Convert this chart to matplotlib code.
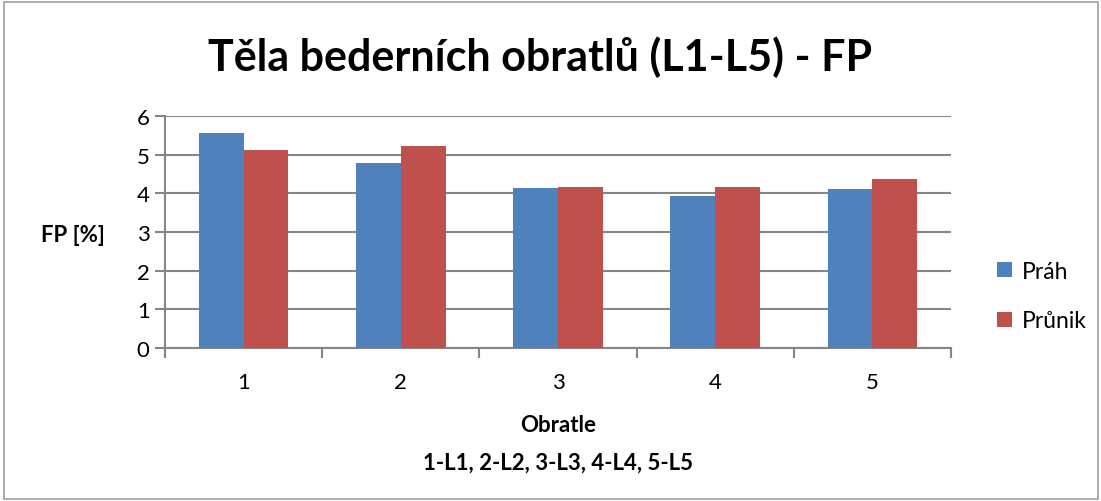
import matplotlib
matplotlib.use("Agg")
import matplotlib.pyplot as plt
import numpy as np
from matplotlib.patches import Rectangle

# Data
categories = ["1", "2", "3", "4", "5"]
prah = [5.56, 4.78, 4.14, 3.92, 4.11]
prunik = [5.13, 5.23, 4.16, 4.17, 4.37]
series_names = ["Práh", "Průnik"]
y_ticks = [0, 1, 2, 3, 4, 5, 6]

plt.rcParams['font.family'] = ['Lato', 'DejaVu Sans']

fig = plt.figure(figsize=(11.01, 5.02), dpi=100)
ax = fig.add_axes([165 / 1101, 153 / 502, 786 / 1101, 232 / 502])

x = np.arange(len(categories))
w = 0.2855
ax.bar(x - w / 2, prah, w, color="#4F81BD", label=series_names[0], zorder=3)
ax.bar(x + w / 2, prunik, w, color="#C0504D", label=series_names[1], zorder=3)

ax.set_xlim(-0.5, len(categories) - 0.5)
ax.set_ylim(0, 6)
ax.set_yticks(y_ticks)
ax.set_yticklabels([str(t) for t in y_ticks], fontsize=16)
ax.yaxis.grid(True, color="#868686", linewidth=1.5, zorder=0)

# category labels centred, tick marks at the boundaries
ax.set_xticks(x)
ax.set_xticklabels(categories, fontsize=16)
ax.tick_params(axis="x", length=0, pad=17)
ax.set_xticks(np.arange(len(categories) + 1) - 0.5, minor=True)
ax.tick_params(axis="x", which="minor", length=7, width=1.5, color="#868686")
ax.tick_params(axis="y", length=7, width=1.5, color="#868686", pad=4)

for side in ["top", "right"]:
    ax.spines[side].set_visible(False)
for side in ["left", "bottom"]:
    ax.spines[side].set_color("#868686")
    ax.spines[side].set_linewidth(1.5)

fig.text(540 / 1101, 1 - 57 / 502, "Těla bederních obratlů (L1-L5) - FP",
         ha="center", va="center", fontsize=31, fontweight="bold")
fig.text(73 / 1101, 1 - 236 / 502, "FP [%]", ha="center", va="center",
         fontsize=16, fontweight="bold")
fig.text(558 / 1101, 1 - 425 / 502, "Obratle", ha="center", va="center",
         fontsize=16, fontweight="bold")
fig.text(558 / 1101, 1 - 463 / 502, "1-L1, 2-L2, 3-L3, 4-L4, 5-L5", ha="center",
         va="center", fontsize=16, fontweight="bold")

fig.legend(loc="center left", bbox_to_anchor=(976 / 1101, 1 - 297 / 502),
           frameon=False, fontsize=16.5, handlelength=0.65, handleheight=0.65,
           handletextpad=0.45, labelspacing=1.25)

# chart area border
fig.patches.append(Rectangle((4 / 1101, 2 / 502), 1094 / 1101, 497 / 502,
                             transform=fig.transFigure, fill=False,
                             edgecolor="#a0a0a0", linewidth=1.2))

fig.savefig("out.png", dpi=100)
